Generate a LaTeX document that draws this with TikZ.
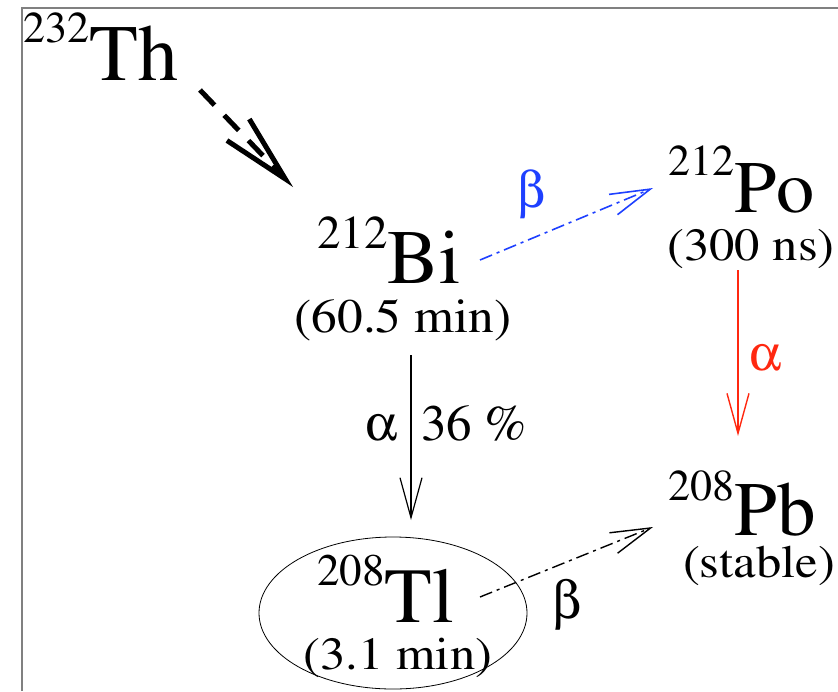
\documentclass[tikz,border=0pt]{standalone}
\usepackage[T1]{fontenc}
\usepackage{mathptmx}
\usepackage[Symbol]{upgreek}
\usetikzlibrary{arrows.meta,shapes.geometric}
\definecolor{decblue}{RGB}{30,64,255}
\definecolor{decred}{RGB}{255,40,16}
\definecolor{framegray}{RGB}{128,128,128}
\newcommand{\nucsym}[5]{{\fontsize{#1}{#1}\selectfont\raisebox{#2pt}{#3}}{\fontsize{#4}{#4}\selectfont #5}}
\newcommand{\hlstretch}[2]{\scalebox{#1}[1]{#2}}
\begin{document}
\begin{tikzpicture}[x=1pt,y=-1pt,
  txt/.style={inner sep=0pt, anchor=base west},
  halflife/.style={inner sep=0pt, anchor=base, font=\fontsize{48}{48}\selectfont},
  lbl/.style={inner sep=0pt, font=\fontsize{51}{51}\selectfont},
  barb/.style={-{Straight Barb[length=40pt,width=22pt]}},
  thin decay/.style={barb, line width=1.2pt},
  dashdot/.style={dash pattern=on 13pt off 5pt on 3pt off 5pt}]
\useasboundingbox (0,0) rectangle (838,691);
\draw[framegray, line width=2pt] (22,691) -- (22,8) -- (838,8);

% nuclides
\node[txt] (th) at (23,80) {\nucsym{44}{38}{232}{80}{Th}};
\node[txt] (bi) at (317,283) {\nucsym{47}{35}{212}{77}{Bi}};
\node[halflife] (bihl) at (403,332) {\hlstretch{1.07}{(60.5 min)}};
\node[txt] (po) at (668,212) {\nucsym{44}{37}{212}{74}{\hlstretch{1.03}{Po}}};
\node[halflife, font=\fontsize{46}{46}\selectfont] (pohl) at (751,260) {\hlstretch{1.1}{(300 ns)}};
\node[txt] (pb) at (668,535) {\nucsym{44}{35}{208}{77}{Pb}};
\node[halflife, font=\fontsize{46}{46}\selectfont] (pbhl) at (759,577) {\hlstretch{1.1}{(stable)}};
\node[txt] (tl) at (317,622) {\nucsym{45}{37}{208}{78}{Tl}};
\node[halflife, font=\fontsize{46}{46}\selectfont] (tlhl) at (398,669) {\hlstretch{1.1}{(3.1 min)}};
\node[draw, ellipse, minimum width=268pt, minimum height=152pt, inner sep=0pt, line width=0.8pt] (tlring) at (393,613) {};

% connectors
\draw[line width=5pt, dash pattern=on 21pt off 14pt, -{Straight Barb[length=68pt,width=31pt]}]
  ([shift={(177,10)}]th.base west) -- ([shift={(-24,-96)}]bi.base west);
\draw[decblue, barb, line width=1.6pt, dashdot]
  ([shift={(163,-23)}]bi.base west) -- ([shift={(-15,-24)}]po.base west);
\draw[thin decay]
  ([shift={(94,72)}]bi.base west) -- ([shift={(94,-102)}]tl.base west);
\draw[decred, thin decay, line width=1.4pt]
  ([shift={(70,58)}]po.base west) -- ([shift={(70,-99)}]pb.base west);
\draw[barb, line width=1.4pt, dashdot]
  ([shift={(163,-25)}]tl.base west) -- ([shift={(-15,-8)}]pb.base west);

% labels
\node[lbl, anchor=base west, text=decblue] (lbeta1) at (517,207) {$\upbeta$};
\node[lbl, anchor=base east] (lalpha1) at (398,440) {$\upalpha$};
\node[lbl, anchor=base west] (lpct) at (421,440) {36 \%};
\node[lbl, anchor=base west, text=decred] (lalpha2) at (749,370) {$\upalpha$};
\node[lbl, anchor=base west, font=\fontsize{53}{53}\selectfont] (lbeta2) at (552,618) {$\upbeta$};
\end{tikzpicture}
\end{document}
